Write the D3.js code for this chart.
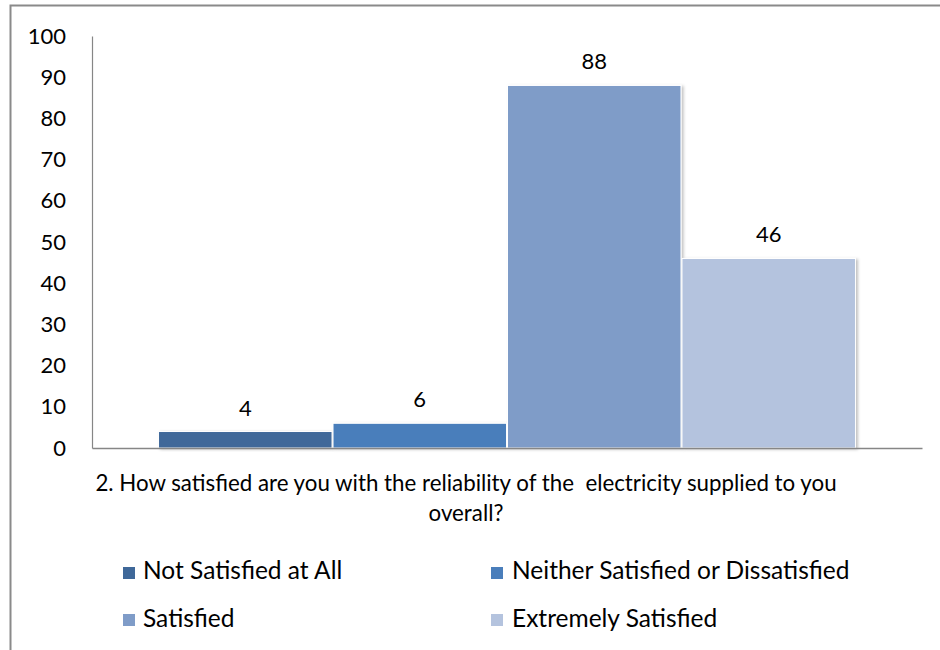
<!DOCTYPE html>
<html>
<head>
<meta charset="utf-8">
<script src="https://cdn.jsdelivr.net/npm/d3@7"></script>
<style>
  html, body { margin: 0; padding: 0; background: #fff; }
  svg { display: block; }
  text { font-family: Lato, "Open Sans", sans-serif; fill: #000; white-space: pre; }
</style>
</head>
<body>
<svg id="chart" width="940" height="650"></svg>
<script>
const category = "2. How satisfied are you with the reliability of the  electricity supplied to you overall?";
const categoryLines = ["2. How satisfied are you with the reliability of the  electricity supplied to you", "overall?"];
const series = ["Not Satisfied at All", "Neither Satisfied or Dissatisfied", "Satisfied", "Extremely Satisfied"];
const values = [4, 6, 88, 46];
const colors = ["#3F6899", "#4A7EBB", "#7F9CC8", "#B4C3DE"];
const yTicks = [0, 10, 20, 30, 40, 50, 60, 70, 80, 90, 100];

const svg = d3.select("#chart");
const fontSize = 22;
const legendFontSize = 24.5;

// outer frame
svg.append("path")
  .attr("d", "M10.5,650 L10.5,5.5 L940,5.5")
  .attr("fill", "none").attr("stroke", "#8a8a8a").attr("stroke-width", 2);

const plot = { left: 92, right: 922, top: 36, bottom: 448 };

const y = d3.scaleLinear().domain([0, 100]).range([plot.bottom, plot.top]);
const x0 = d3.scaleBand().domain([category]).range([plot.left, plot.right])
  .paddingInner(0).paddingOuter(0.0946);
const x1 = d3.scaleBand().domain(series).range([0, x0.bandwidth()]).padding(0);

const defs = svg.append("defs");
const f = defs.append("filter").attr("id", "shadow")
  .attr("x", "-10%").attr("y", "-10%").attr("width", "130%").attr("height", "130%");
f.append("feDropShadow").attr("dx", 2).attr("dy", 1).attr("stdDeviation", 1.5)
  .attr("flood-color", "#000").attr("flood-opacity", 0.25);

// y axis
const yAxis = d3.axisLeft(y).tickValues(yTicks).tickSize(0).tickPadding(26);
const gy = svg.append("g").attr("transform", `translate(${plot.left},0)`).call(yAxis);
gy.select(".domain").attr("stroke", "#868686").attr("stroke-width", 1.2);
gy.selectAll("text").style("font-size", fontSize + "px")
  .style("font-family", "Lato, 'Open Sans', sans-serif").attr("fill", "#000");

// bars
const data = series.map((s, i) => ({ s, v: values[i], c: colors[i] }));
const gBars = svg.append("g").attr("transform", `translate(${x0(category)},0)`);
gBars.selectAll("rect").data(data).join("rect")
  .attr("x", d => x1(d.s) + 0.5)
  .attr("y", d => y(d.v))
  .attr("width", x1.bandwidth() - 1)
  .attr("height", d => y(0) - y(d.v))
  .attr("fill", d => d.c)
  .attr("stroke", "#fff").attr("stroke-width", 1)
  .attr("filter", "url(#shadow)");

gBars.selectAll("text.val").data(data).join("text")
  .attr("class", "val")
  .attr("x", d => x1(d.s) + x1.bandwidth() / 2)
  .attr("y", d => y(d.v) - 16)
  .attr("text-anchor", "middle")
  .style("font-size", fontSize + "px")
  .text(d => d.v);

// x axis
const xAxis = d3.axisBottom(x0).tickSize(0).tickFormat("");
const gx = svg.append("g").attr("transform", `translate(0,${plot.bottom})`).call(xAxis);
gx.select(".domain").attr("stroke", "#868686").attr("stroke-width", 1.5);

// category label (centred on the chart area)
const cx = (10 + plot.right) / 2;
svg.append("g").selectAll("text").data(categoryLines).join("text")
  .attr("x", cx)
  .attr("y", (d, i) => 491 + i * 30)
  .attr("text-anchor", "middle")
  .style("font-size", "22.3px")
  .text(d => d);

// legend
const legendPos = [
  { mx: 123, my: 567, tx: 143, ty: 579 },
  { mx: 491, my: 567, tx: 512, ty: 579 },
  { mx: 123, my: 614, tx: 143, ty: 627 },
  { mx: 491, my: 614, tx: 512, ty: 627 }
];
const lg = svg.append("g").selectAll("g").data(data).join("g");
lg.append("rect")
  .attr("x", (d, i) => legendPos[i].mx)
  .attr("y", (d, i) => legendPos[i].my)
  .attr("width", 12).attr("height", 12)
  .attr("fill", d => d.c);
lg.append("text")
  .attr("x", (d, i) => legendPos[i].tx)
  .attr("y", (d, i) => legendPos[i].ty)
  .style("font-size", legendFontSize + "px")
  .text(d => d.s);
</script>
</body>
</html>
